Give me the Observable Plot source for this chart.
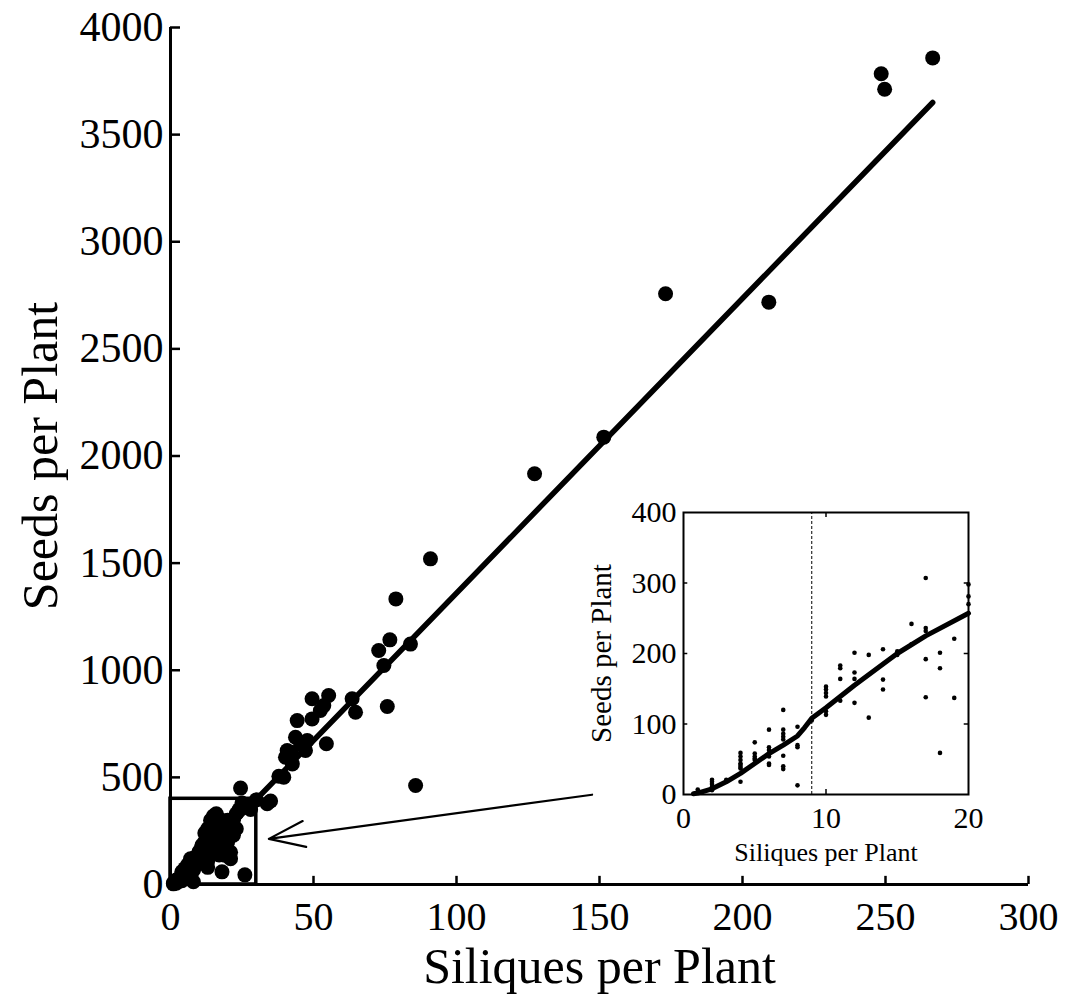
<!DOCTYPE html>
<html><head><meta charset="utf-8">
<script src="https://cdn.jsdelivr.net/npm/d3@7"></script>
<script src="https://cdn.jsdelivr.net/npm/@observablehq/plot@0.6"></script>
<style>
html,body{margin:0;padding:0;background:#fff;}
#wrap{position:relative;width:1069px;height:997px;overflow:hidden;}
#main{position:absolute;left:0;top:0;}
#inset{position:absolute;left:570px;top:495px;}
</style></head><body>
<div id="wrap"><div id="main"></div><div id="inset"></div></div>
<script>
// ---------- data ----------
// inset points (siliques per plant, seeds per plant), low-fecundity plants
const insetX = [1,1, 2,2,2,2,2, 3, 4,4,4,4,4,4,4,4, 5,5,5,5,5, 6,6,6,6,6,6,6, 7,7,7,7,7,7,7,7, 8,8,8,8, 9,
  10,10,10,10,10,10, 11,11,11,11, 12,12,12,12, 13,13, 14,14,14, 15,15, 16,16, 17,17,17,17,17, 18,18,18, 19,19, 20,20,20];
const insetY = [3,7, 21,18,15,11,6, 21, 59,54,49,44,42,39,37,18, 74,58,54,51,49, 92,67,63,58,54,44,42, 120,92,86,82,78,55,40,36, 96,70,67,13, 105,
  153,149,144,139,118,113, 183,179,164,133, 201,173,164,130, 198,109, 206,163,149, 203,198, 242,213, 307,236,232,192,138, 201,179,59, 221,137, 298,281,270];
// inset fitted curve
const insetFitX = [0.7, 1, 2, 3, 4, 5, 6, 7, 8, 8.5, 9, 10, 12, 15, 17, 20];
const insetFitY = [1, 2, 8, 18, 30, 44, 58, 70, 83, 95, 108, 123, 155, 200, 225, 257];

// additional main-panel points (plants beyond the inset range, and the dense cluster near the origin)
const mainX = [8,9,10,12,13,13,14,15,16,16,18,19,20,20,21,21,22,23,25,27,
  21,22,23,24,24.5,26,26.8,28,30,33.8,35,37.9,39.6,40.2,40.8,42.3,42.6,43.7,44.3,45.5,47.2,47.8,49.5,49.5,52.4,53.6,54.5,55.3,
  63.5,64.7,72.8,74.6,75.8,76.7,78.8,83.9,85.7,90.9,127.3,151.5,173.1,209.2,248.5,249.7,266.5];
const mainY = [120,130,100,240,260,80,300,320,290,330,270,240,200,300,150,120,230,260,380,365,
  260,300,330,350,450,45,361,350,395,377,390,505,501,594,625,617,563,687,765,657,626,672,773,867,812,835,657,882,
  867,804,1092,1022,831,1142,1333,1122,462,1520,1917,2088,2757,2718,3784,3712,3858];

// fitted line (main panel)
const fitX = [22, 266.5];
const fitY = [287, 3650];

// zoom box & arrow
const boxX = [0, 30], boxY = [0, 400];
const arrowFrom = [147.4, 419], arrowTo = [34.4, 213];

const xTicks = [0,50,100,150,200,250,300];
const yTicks = [0,500,1000,1500,2000,2500,3000,3500,4000];
const insetXTicks = [0,10,20];
const insetYTicks = [0,100,200,300,400];
const xLabel = "Siliques per Plant";
const yLabel = "Seeds per Plant";

// ---------- build ----------
const insetPts = insetX.map((x,i)=>({x, y: insetY[i]}));
const allPts = insetPts.concat(mainX.map((x,i)=>({x, y: mainY[i]})));
const fit = fitX.map((x,i)=>({x, y: fitY[i]}));
const insetFit = insetFitX.map((x,i)=>({x, y: insetFitY[i]}));

const font = "'Liberation Serif', 'Times New Roman', serif";

const main = Plot.plot({
  width: 1069, height: 997,
  marginLeft: 170, marginRight: 41, marginTop: 27, marginBottom: 113,
  style: {fontFamily: font, background: "white", color: "black"},
  x: {domain: [0, 300]},
  y: {domain: [0, 4000]},
  marks: [
    Plot.axisY({ticks: yTicks, tickSize: 0, tickPadding: 7, fontSize: 42, label: null, tickFormat: d => String(d)}),
    Plot.axisX({ticks: xTicks, tickSize: 0, tickPadding: 17, fontSize: 40, label: null, tickFormat: d => String(d)}),
    Plot.ruleY(yTicks.slice(1), {x1: 0, x2: 3.5, stroke: "black", strokeWidth: 2.5}),
    Plot.ruleX(xTicks.slice(1), {y1: 0, y2: 38, stroke: "black", strokeWidth: 2.5}),
    Plot.ruleX([0], {y1: 0, y2: 4000, stroke: "black", strokeWidth: 3}),
    Plot.ruleY([0], {x1: 0, x2: 300, stroke: "black", strokeWidth: 3}),
    Plot.rect([{x1: boxX[0], x2: boxX[1], y1: boxY[0], y2: boxY[1]}], {x1: "x1", x2: "x2", y1: "y1", y2: "y2", fill: "none", stroke: "black", strokeWidth: 3.5}),
    Plot.line(fit, {x: "x", y: "y", stroke: "black", strokeWidth: 5.5}),
    Plot.dot(allPts, {x: "x", y: "y", r: 7.5, fill: "black", stroke: "none"}),
    Plot.arrow([{x1: arrowFrom[0], y1: arrowFrom[1], x2: arrowTo[0], y2: arrowTo[1]}], {x1: "x1", y1: "y1", x2: "x2", y2: "y2", stroke: "black", strokeWidth: 2.2, headLength: 26, headAngle: 40}),
    Plot.text([xLabel], {frameAnchor: "bottom", textAnchor: "middle", lineAnchor: "middle", dy: 82, fontSize: 50, text: d => d, fill: "black"}),
    Plot.text([yLabel], {frameAnchor: "left", textAnchor: "middle", lineAnchor: "middle", dx: -130, rotate: -90, fontSize: 50, text: d => d, fill: "black"})
  ]
});
document.getElementById("main").appendChild(main);

const inset = Plot.plot({
  width: 420, height: 380,
  marginLeft: 113, marginRight: 22, marginTop: 17, marginBottom: 81,
  style: {fontFamily: font, background: "transparent", color: "black"},
  x: {domain: [0, 20]},
  y: {domain: [0, 400]},
  marks: [
    Plot.axisY({ticks: insetYTicks, tickSize: 0, tickPadding: 7, fontSize: 30, label: null, tickFormat: d => String(d)}),
    Plot.axisX({ticks: insetXTicks, tickSize: 0, tickPadding: 12, fontSize: 30, label: null, tickFormat: d => String(d)}),
    Plot.ruleY([100,200,300], {x1: 0, x2: 0.3, stroke: "black", strokeWidth: 1.5}),
    Plot.ruleY([100,200,300], {x1: 19.7, x2: 20, stroke: "black", strokeWidth: 1.5}),
    Plot.ruleX([10], {y1: 0, y2: 7, stroke: "black", strokeWidth: 1.5}),
    Plot.ruleX([10], {y1: 393, y2: 400, stroke: "black", strokeWidth: 1.5}),
    Plot.ruleX([9], {y1: 0, y2: 400, stroke: "black", strokeWidth: 1, strokeDasharray: "3,2"}),
    Plot.frame({stroke: "black", strokeWidth: 2}),
    Plot.line(insetFit, {x: "x", y: "y", stroke: "black", strokeWidth: 5}),
    Plot.dot(insetPts, {x: "x", y: "y", r: 2.3, fill: "black", stroke: "none"}),
    Plot.text([xLabel], {frameAnchor: "bottom", textAnchor: "middle", lineAnchor: "middle", dy: 58, fontSize: 26, text: d => d, fill: "black"}),
    Plot.text([yLabel], {frameAnchor: "left", textAnchor: "middle", lineAnchor: "middle", dx: -82, rotate: -90, fontSize: 29, text: d => d, fill: "black"})
  ]
});
document.getElementById("inset").appendChild(inset);
</script>
</body></html>
